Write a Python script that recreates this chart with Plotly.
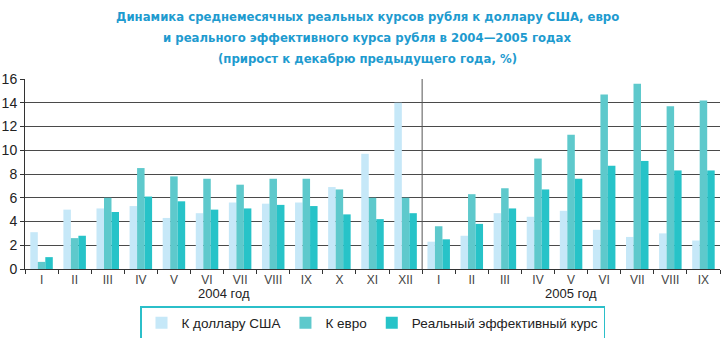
import plotly.graph_objects as go

# Months of 2004 (I..XII) followed by months of 2005 (I..IX)
months = ["I", "II", "III", "IV", "V", "VI", "VII", "VIII", "IX", "X", "XI", "XII",
          "I", "II", "III", "IV", "V", "VI", "VII", "VIII", "IX"]

usd = [3.1, 5.0, 5.1, 5.3, 4.3, 4.7, 5.6, 5.5, 5.6, 6.9, 9.7, 14.0,
       2.3, 2.8, 4.7, 4.4, 4.9, 3.3, 2.7, 3.0, 2.4]
eur = [0.6, 2.6, 6.0, 8.5, 7.8, 7.6, 7.1, 7.6, 7.6, 6.7, 6.0, 6.0,
       3.6, 6.3, 6.8, 9.3, 11.3, 14.7, 15.6, 13.7, 14.2]
reer = [1.0, 2.8, 4.8, 6.1, 5.7, 5.0, 5.1, 5.4, 5.3, 4.6, 4.2, 4.7,
        2.5, 3.8, 5.1, 6.7, 7.6, 8.7, 9.1, 8.3, 8.3]

series_names = ["К доллару США", "К евро", "Реальный эффективный курс"]
colors = ["#c6e8f8", "#5ec9cc", "#27c3c8"]
year_labels = ["2004 год", "2005 год"]
yticks = list(range(0, 17, 2))

title_lines = [
    "Динамика среднемесячных реальных курсов рубля к доллару США, евро",
    "и реального эффективного курса рубля в 2004\u20142005 годах",
    "(прирост к декабрю предыдущего года, %)",
]

x = list(range(len(months)))

fig = go.Figure()
for name, vals, col in zip(series_names, [usd, eur, reer], colors):
    fig.add_trace(go.Bar(x=x, y=vals, name=name, marker=dict(color=col, line=dict(width=0))))

fig.update_layout(
    width=725, height=338,
    margin=dict(l=25, r=5, t=79, b=69, autoexpand=False),
    paper_bgcolor="white", plot_bgcolor="white",
    barmode="group", bargap=0.32, bargroupgap=0,
    showlegend=True,
    legend=dict(orientation="h", x=0.5, xanchor="center", y=-0.195, yanchor="top",
                bordercolor="#2bbfc9", borderwidth=1.5,
                font=dict(family="Liberation Sans, Arial, sans-serif", size=13.5, color="#222"),
                itemwidth=30, traceorder="normal"),
    font=dict(family="Liberation Sans, Arial, sans-serif", color="#222"),
)

fig.update_xaxes(
    range=[-0.5, len(months) - 0.5],
    tickmode="array", tickvals=x, ticktext=months,
    ticks="", showgrid=False, zeroline=False,
    showline=True, linecolor="#333", linewidth=1,
    tickfont=dict(size=12, color="#444"),
    minor=dict(tickmode="linear", tick0=-0.5, dtick=1, ticks="outside",
               ticklen=4, tickcolor="#333", showgrid=False),
)
fig.update_yaxes(
    range=[0, 16], tickmode="array", tickvals=yticks,
    ticks="outside", ticklen=4, tickcolor="#333",
    showgrid=True, gridcolor="#4a4a4a", gridwidth=1,
    zeroline=False, showline=True, linecolor="#333", linewidth=1,
    tickfont=dict(size=14, color="#222"),
)

# Vertical separator between the two years
fig.add_shape(type="line", xref="x", yref="y", x0=11.5, x1=11.5, y0=0, y1=16,
              line=dict(color="#555", width=1))

# Year captions under the month labels
for label, xc in zip(year_labels, [5.5, 16.0]):
    fig.add_annotation(x=xc, y=-0.13, xref="x", yref="paper", text=label,
                       showarrow=False, yanchor="middle",
                       font=dict(size=13, color="#222"))

# Three-line title, each line placed by its pixel offset above the plot top
for i, line in enumerate(title_lines):
    fig.add_annotation(
        text="<b>" + line + "</b>",
        xref="paper", yref="paper", x=(367 - 25) / 695, y=1,
        yshift=79 - (16 + 21 * i), yanchor="middle", xanchor="center",
        showarrow=False,
        font=dict(family="Liberation Sans Narrow, DejaVu Sans Condensed, Arial Narrow, sans-serif",
                  size=13, color="#1e9bcf"),
    )

fig.write_html("out.html")
